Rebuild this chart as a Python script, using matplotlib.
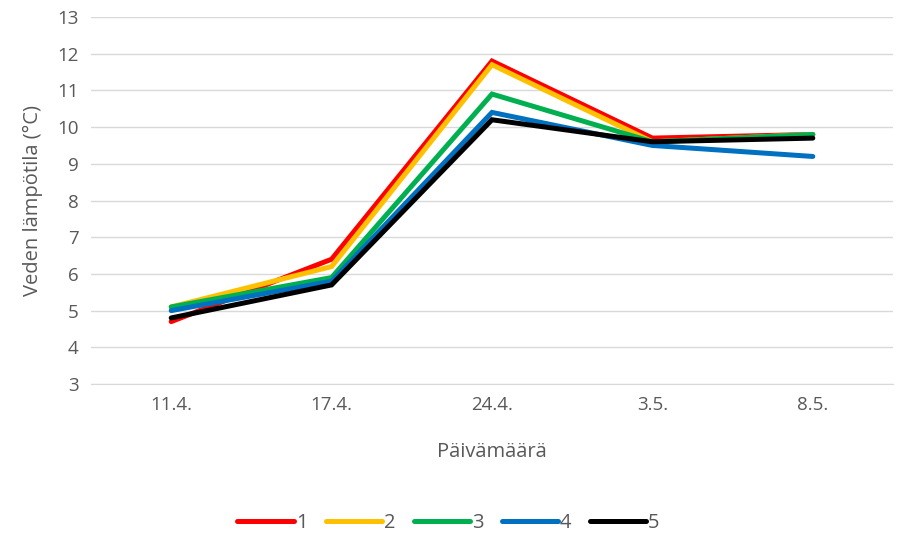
import matplotlib.pyplot as plt

dates = ['11.4.', '17.4.', '24.4.', '3.5.', '8.5.']
s1 = [4.7, 6.4, 11.8, 9.7, 9.8]
s2 = [5.1, 6.2, 11.7, 9.6, 9.8]
s3 = [5.1, 5.9, 10.9, 9.6, 9.8]
s4 = [5.0, 5.8, 10.4, 9.5, 9.2]
s5 = [4.8, 5.7, 10.2, 9.6, 9.7]
names = ['1', '2', '3', '4', '5']
colors = ['#ff0000', '#ffc000', '#00b050', '#0070c0', '#000000']

plt.rcParams['font.family'] = ['Open Sans', 'DejaVu Sans']
fig = plt.figure(figsize=(8.97, 5.35), dpi=100)
ax = fig.add_axes([91/897, 1-384/535, (893-91)/897, (384-17)/535])

x = range(len(dates))
for ys, c, n in zip([s1, s2, s3, s4, s5], colors, names):
    ax.plot(x, ys, color=c, lw=3.6, label=n, solid_capstyle='round', solid_joinstyle='miter')

ax.set_xlim(-0.5, len(dates) - 0.5)
ax.set_ylim(3, 13)
ax.set_yticks(range(3, 14))
ax.set_xticks(list(x))
ax.set_xticklabels(dates)
ax.grid(axis='y', color='#d9d9d9', lw=1)
ax.set_axisbelow(True)
for s in ['top', 'right', 'left']:
    ax.spines[s].set_visible(False)
ax.spines['bottom'].set_color('#d9d9d9')
ax.tick_params(length=0, labelsize=13.5, colors='#595959', pad=9)
ax.set_xlabel('Päivämäärä', fontsize=14.5, color='#595959', labelpad=20)
ax.set_ylabel('Veden lämpötila (°C)', fontsize=14.5, color='#595959', labelpad=10)

fig.legend(loc='center', bbox_to_anchor=(0.5, 1-523/535), ncol=5, frameon=False,
           fontsize=14.5, handlelength=2.8, handletextpad=0.1, columnspacing=0.9,
           labelcolor='#595959')

fig.savefig('out.png', dpi=100)
